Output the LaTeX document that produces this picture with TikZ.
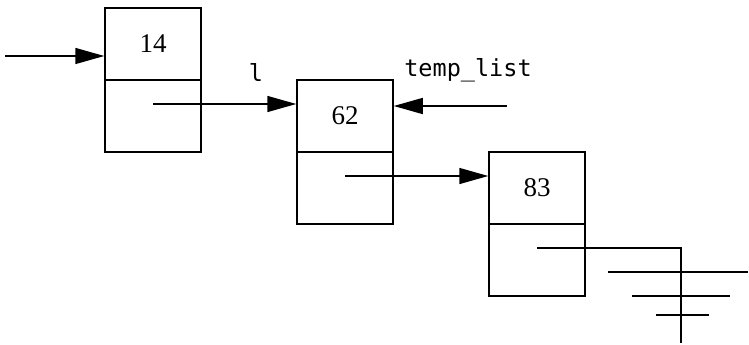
\documentclass[tikz,border=0pt]{standalone}
\usepackage{fontspec}
\setmainfont{Liberation Serif}
\setmonofont{DejaVu Sans Mono}
\usetikzlibrary{arrows.meta,calc}
\begin{document}
\begin{tikzpicture}[x=1pt,y=-1pt,
  line width=1.5pt,
  cell/.style={draw, rectangle, minimum width=96pt, minimum height=72pt, inner sep=0pt,
               font=\fontsize{27}{30}\selectfont},
  ptr/.style={-{Triangle[length=29pt,width=16pt]}},
  lbl/.style={font=\ttfamily\fontsize{23.5}{27}\selectfont, inner sep=0pt}]
\useasboundingbox (0,0) rectangle (749,345);
% boxes
\node[cell] (n1) at (153,44) {14};
\node[cell] (p1) at (153,116) {};
\node[cell] (n2) at (345,116) {62};
\node[cell] (p2) at (345,188) {};
\node[cell] (n3) at (537,188) {83};
\node[cell] (p3) at (537,260) {};
% labels
\node[lbl] (ll) at (256,73) {l};
\node[lbl] (tl) at (468,70) {temp\_list};
% coordinates
\coordinate (s0) at (5,56);
\coordinate (c1) at (153,104);
\coordinate (c2) at (345,176);
\coordinate (c3) at (537,248);
\coordinate (t0) at (507,106);
\coordinate (gc) at (681,248);
\coordinate (ge) at (681,343);
% arrows
\draw[ptr] (s0) -- (s0 -| n1.west);
\draw[ptr] (c1) -- (c1 -| n2.west);
\draw[ptr] (c2) -- (c2 -| n3.west);
\draw[ptr] (t0) -- (t0 -| n2.east);
% null pointer and ground
\draw (c3) -- (gc) -- (ge);
\coordinate (g1a) at (608,272); \coordinate (g1b) at (748,272);
\coordinate (g2a) at (632,296); \coordinate (g2b) at (730,296);
\coordinate (g3a) at (656,315); \coordinate (g3b) at (709,315);
\draw (g1a) -- (g1b);
\draw (g2a) -- (g2b);
\draw (g3a) -- (g3b);
\end{tikzpicture}
\end{document}
